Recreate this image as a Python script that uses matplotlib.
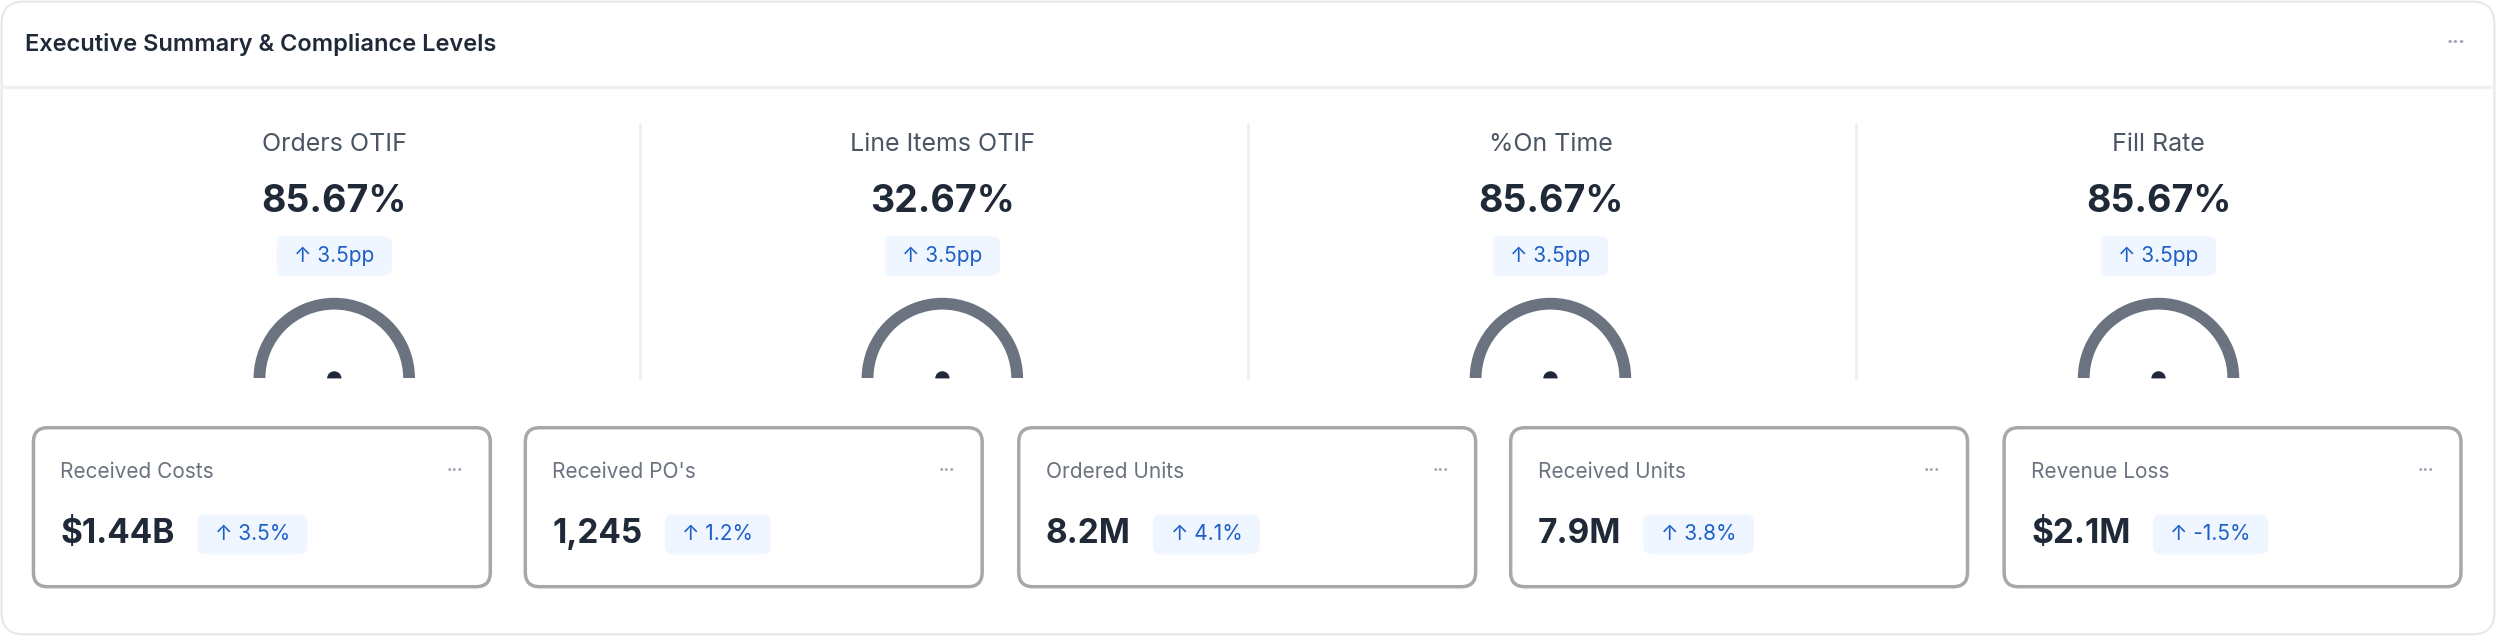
import matplotlib
matplotlib.use("Agg")
import matplotlib.pyplot as plt
from matplotlib.patches import FancyBboxPatch, Arc, Wedge

plt.rcParams["font.family"] = ["Inter", "DejaVu Sans"]

TITLE = "Executive Summary & Compliance Levels"
kpi_names = ["Orders OTIF", "Line Items OTIF", "%On Time", "Fill Rate"]
kpi_values = ["85.67%", "32.67%", "85.67%", "85.67%"]
kpi_deltas = ["↑ 3.5pp", "↑ 3.5pp", "↑ 3.5pp", "↑ 3.5pp"]
card_names = ["Received Costs", "Received PO's", "Ordered Units", "Received Units", "Revenue Loss"]
card_values = ["$1.44B", "1,245", "8.2M", "7.9M", "$2.1M"]
card_deltas = ["↑ 3.5%", "↑ 1.2%", "↑ 4.1%", "↑ 3.8%", "↑ -1.5%"]

W, H = 1568, 400
DARK = "#1f2937"
MUTED = "#4b5563"
GREY = "#6b7280"
BADGE_BG = "#eff6ff"
BADGE_FG = "#1d5fc9"

fig = plt.figure(figsize=(24.96, 6.36), dpi=100)
ax = fig.add_axes([0, 0, 1, 1])
ax.set_xlim(0, W)
ax.set_ylim(H, 0)
ax.axis("off")

# outer panel
ax.add_patch(FancyBboxPatch((1, 1), W - 2, H - 2, boxstyle="round,pad=0,rounding_size=14",
                            fc="white", ec="#e5e7eb", lw=1.5))
ax.plot([1, W - 1], [55, 55], color="#eeeff1", lw=2.5)
ax.text(16, 28, TITLE, fontsize=17, fontweight="semibold", color=DARK, va="center")
ax.text(1543, 26, "•••", fontsize=8, color="#9ca3af", ha="center", va="center")

fig.canvas.draw()
rend = fig.canvas.get_renderer()
inv = ax.transData.inverted()


def text_width(t):
    bb = t.get_window_extent(rend)
    (x0, _), (x1, _) = inv.transform([(bb.x0, bb.y0), (bb.x1, bb.y1)])
    return abs(x1 - x0)


def badge(x, y, label, anchor="center"):
    t = ax.text(0, y, label, fontsize=15, color=BADGE_FG, va="center", ha="left", zorder=4)
    tw = text_width(t)
    bw, bh = tw + 22, 25
    bx = x - bw / 2 if anchor == "center" else x
    t.set_x(bx + 11)
    ax.add_patch(FancyBboxPatch((bx, y - bh / 2), bw, bh, boxstyle="round,pad=0,rounding_size=5",
                                fc=BADGE_BG, ec="none", zorder=3))


col_w = (W - 40) / 4
centers = [20 + col_w * (i + 0.5) - 1 for i in range(4)]
for i, (name, val, d) in enumerate(zip(kpi_names, kpi_values, kpi_deltas)):
    cx = centers[i]
    ax.text(cx, 91, name, fontsize=18, color=MUTED, ha="center", va="center")
    ax.text(cx, 127, val, fontsize=27, fontweight="bold", color=DARK, ha="center", va="center")
    badge(cx, 161, d)
    # gauge arc, clipped at baseline
    arc = Arc((cx, 238), 94, 94, theta1=0, theta2=360, color=GREY, lw=8.5)
    ax.add_patch(arc)
    ax.add_patch(Wedge((cx, 238), 4.5, 180, 360, fc=DARK, ec="none"))
    clip = FancyBboxPatch((0, 0), W, 238, boxstyle="square,pad=0", transform=ax.transData,
                          fc="none", ec="none")
    ax.add_patch(clip)
    arc.set_clip_path(clip)
    if i < 3:
        ax.plot([20 + col_w * (i + 1)] * 2, [78, 238], color="#eeeff1", lw=2)

card_x = [21, 330, 640, 949, 1259]
card_w, card_y, card_h = 287, 269, 100
for x, name, val, d in zip(card_x, card_names, card_values, card_deltas):
    ax.add_patch(FancyBboxPatch((x, card_y), card_w, card_h, boxstyle="round,pad=0,rounding_size=9",
                                fc="white", ec="#a8a8a8", lw=2.5))
    ax.text(x + 17, 297, name, fontsize=15, color=GREY, va="center")
    ax.text(x + card_w - 22, 295, "•••", fontsize=7, color="#9ca3af", ha="center", va="center")
    t = ax.text(x + 17, 336, val, fontsize=24, fontweight="bold", color=DARK, va="center")
    badge(x + 17 + text_width(t) + 14, 336, d, anchor="left")

fig.savefig("out.png", dpi=100)
